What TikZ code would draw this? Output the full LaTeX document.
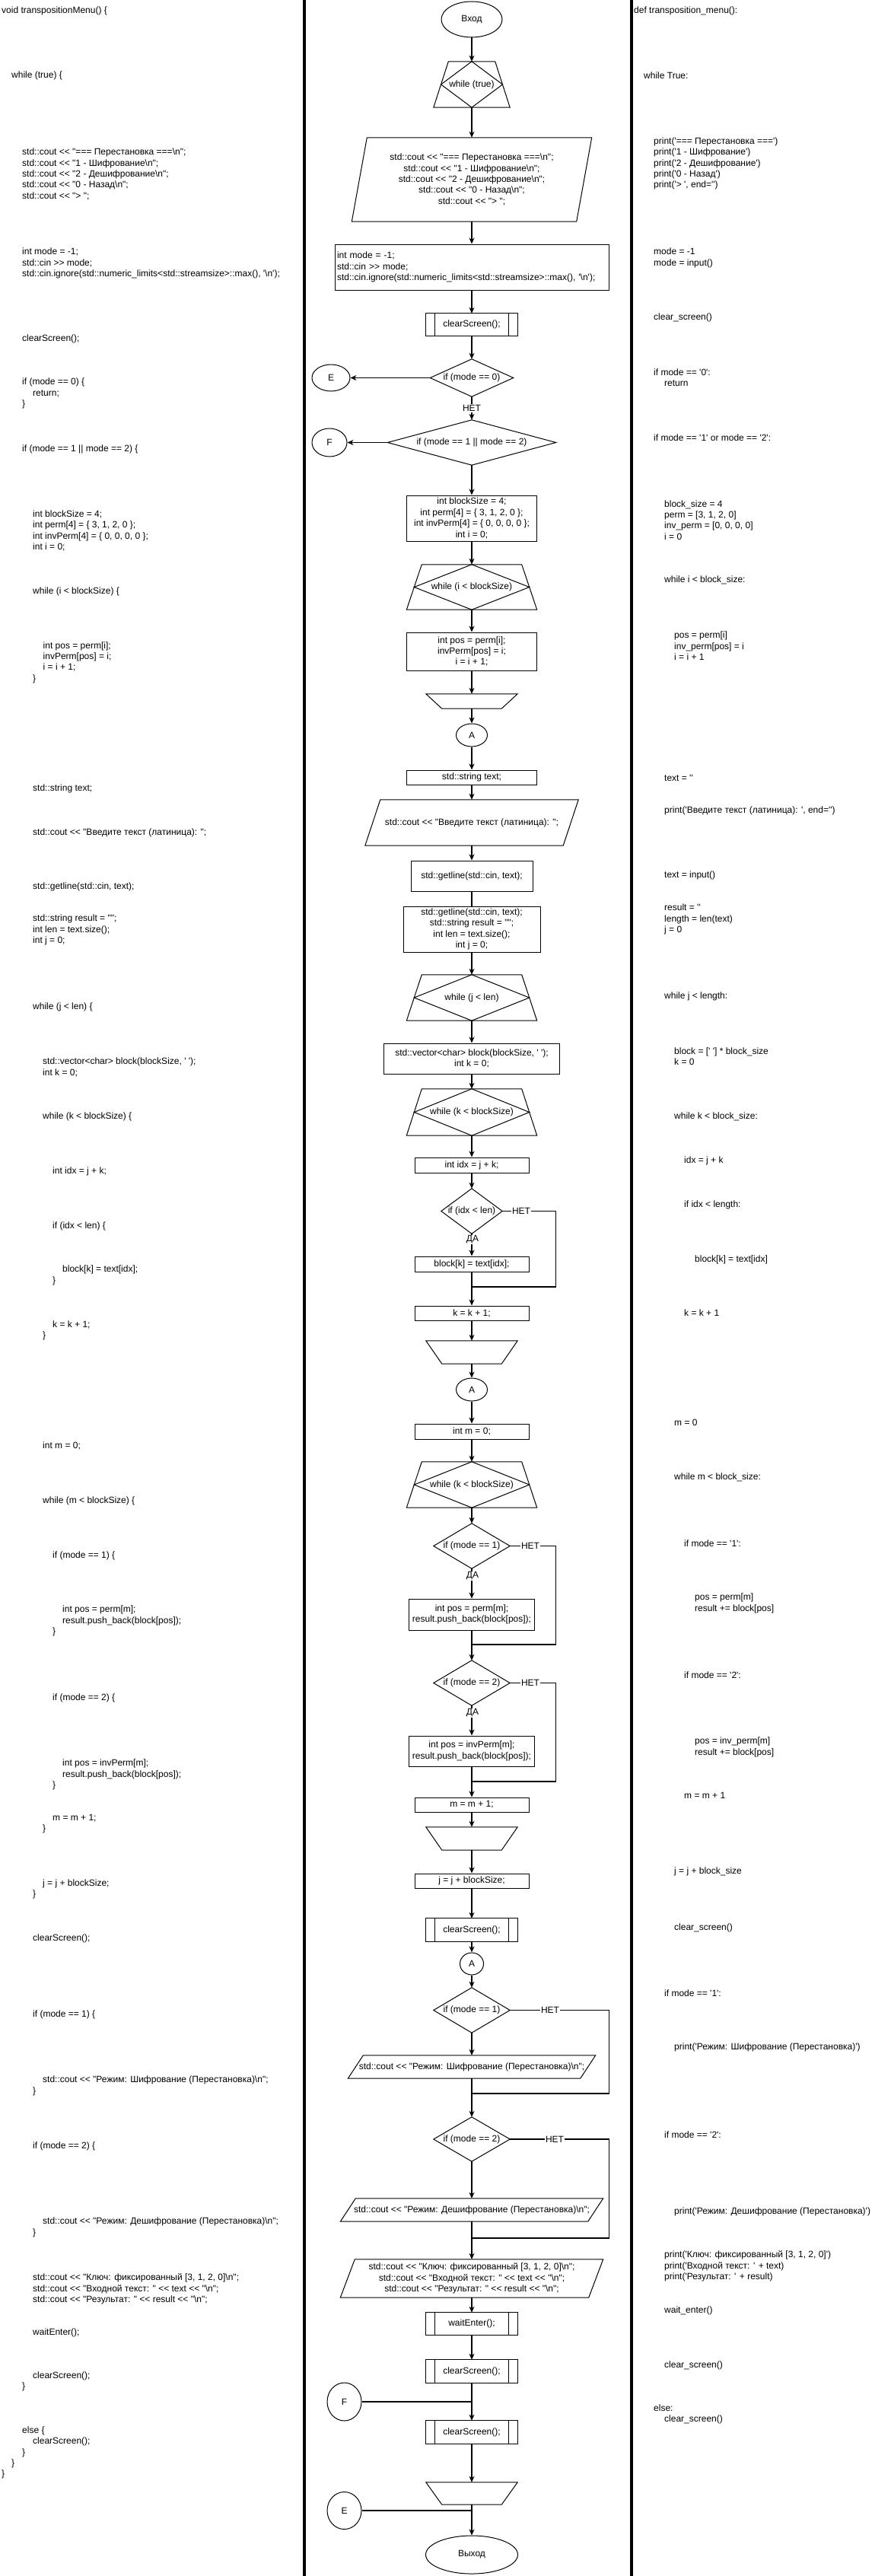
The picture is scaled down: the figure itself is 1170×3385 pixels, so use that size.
\documentclass[tikz,border=0pt]{standalone}
\usepackage{fontspec}
\setmainfont{Liberation Sans}[Ligatures=TeXOff]
\usetikzlibrary{arrows.meta,shapes.geometric}
\newcommand\bsl{\textbackslash}
\newcommand\ind[1]{\hspace*{#1pt}}
\newcommand\fsz{\fontsize{12pt}{14.4pt}\selectfont}
\tikzset{
  shp/.style={draw=black, line width=1pt},
  gh/.style={rectangle, inner sep=0pt, align=center},
  sz/.style 2 args={minimum width=#1pt, minimum height=#2pt},
  term/.style={ellipse, draw=black, line width=1pt, inner sep=0pt},
  arr/.style={line width=1.2pt, -{Stealth[length=8pt,width=7pt]}},
  ln/.style={line width=1.2pt},
  lab/.style={fill=white, inner sep=1pt},
  code/.style={anchor=west, align=left, inner sep=0pt},
  sepline/.style={line width=3.5pt, draw=black}
}
\newcommand\LoopS[2]{\draw[shp] ([xshift=#2pt]#1.north west) -- ([xshift=-#2pt]#1.north east) -- (#1.south east) -- (#1.south west) -- cycle;
  \draw[shp] (#1.north) -- ([xshift=-#2pt/2]#1.east) -- (#1.south) -- ([xshift=#2pt/2]#1.west) -- cycle;}
\newcommand\LoopE[2]{\draw[shp] (#1.north west) -- (#1.north east) -- ([xshift=-#2pt]#1.south east) -- ([xshift=#2pt]#1.south west) -- cycle;}
\newcommand\Para[2]{\draw[shp] ([xshift=#2pt]#1.north west) -- (#1.north east) -- ([xshift=-#2pt]#1.south east) -- (#1.south west) -- cycle;}
\newcommand\Dmd[1]{\draw[shp] (#1.north) -- (#1.east) -- (#1.south) -- (#1.west) -- cycle;}
\newcommand\Predef[1]{\draw[shp] (#1.north west) rectangle (#1.south east);
  \draw[shp] ([xshift=12pt]#1.north west) -- ([xshift=12pt]#1.south west) ([xshift=-12pt]#1.north east) -- ([xshift=-12pt]#1.south east);}
\begin{document}
\begin{tikzpicture}[x=1pt,y=-1pt,font=\fsz]
\useasboundingbox (0,0) rectangle (1170,3385);
\fill[white] (0,0) rectangle (1170,3385);
\draw[sepline] (400,0) -- (400,3385);
\draw[sepline] (830,0) -- (830,3385);

% ---------------- left column (C++) ----------------
\node[code] (c1) at (2,14) {void transpositionMenu() \{};
\node[code] (c2) at (15,99) {while (true) \{};
\node[code] (c3) at (29,229) {std::cout << "=== Перестановка ===\bsl n";\\std::cout << "1 - Шифрование\bsl n";\\std::cout << "2 - Дешифрование\bsl n";\\std::cout << "0 - Назад\bsl n";\\std::cout << "> ";};
\node[code] (c4) at (29,346) {int mode = -1;\\std::cin >> mode;\\std::cin.ignore(std::numeric\_limits<std::streamsize>::max(), '\bsl n');};
\node[code] (c5) at (29,445) {clearScreen();};
\node[code] (c6) at (29,517) {if (mode == 0) \{\\\ind{14}return;\\\}};
\node[code] (c7) at (29,590) {if (mode == 1 || mode == 2) \{};
\node[code] (c8) at (43,697.5) {int blockSize = 4;\\int perm[4] = \{ 3, 1, 2, 0 \};\\int invPerm[4] = \{ 0, 0, 0, 0 \};\\int i = 0;};
\node[code] (c9) at (43,777) {while (i < blockSize) \{};
\node[code] (c10) at (43,870.5) {\ind{13.5}int pos = perm[i];\\\ind{13.5}invPerm[pos] = i;\\\ind{13.5}i = i + 1;\\\}};
\node[code] (c11) at (43,1036) {std::string text;};
\node[code] (c12) at (43,1094) {std::cout << "Введите текст (латиница): ";};
\node[code] (c13) at (43,1165) {std::getline(std::cin, text);};
\node[code] (c14) at (43,1222) {std::string result = "";\\int len = text.size();\\int j = 0;};
\node[code] (c15) at (43,1323) {while (j < len) \{};
\node[code] (c16) at (56,1402.5) {std::vector<char> block(blockSize, ' ');\\int k = 0;};
\node[code] (c17) at (56,1467) {while (k < blockSize) \{};
\node[code] (c18) at (69,1539) {int idx = j + k;};
\node[code] (c19) at (69,1611) {if (idx < len) \{};
\node[code] (c20) at (69,1676) {\ind{13}block[k] = text[idx];\\\}};
\node[code] (c21) at (56,1748.5) {\ind{13}k = k + 1;\\\}};
\node[code] (c22) at (56,1900) {int m = 0;};
\node[code] (c23) at (56,1972) {while (m < blockSize) \{};
\node[code] (c24) at (69,2044) {if (mode == 1) \{};
\node[code] (c25) at (69,2130) {\ind{13}int pos = perm[m];\\\ind{13}result.push\_back(block[pos]);\\\}};
\node[code] (c26) at (69,2231) {if (mode == 2) \{};
\node[code] (c27) at (69,2332) {\ind{13}int pos = invPerm[m];\\\ind{13}result.push\_back(block[pos]);\\\}};
\node[code] (c28) at (56,2396.5) {\ind{13}m = m + 1;\\\}};
\node[code] (c29) at (43,2482.5) {\ind{13}j = j + blockSize;\\\}};
\node[code] (c30) at (43,2547) {clearScreen();};
\node[code] (c31) at (43,2647) {if (mode == 1) \{};
\node[code] (c32) at (43,2741) {\ind{13}std::cout << "Режим: Шифрование (Перестановка)\bsl n";\\\}};
\node[code] (c33) at (43,2820) {if (mode == 2) \{};
\node[code] (c34) at (43,2927) {\ind{13}std::cout << "Режим: Дешифрование (Перестановка)\bsl n";\\\}};
\node[code] (c35) at (43,3008) {std::cout << "Ключ: фиксированный [3, 1, 2, 0]\bsl n";\\std::cout << "Входной текст: " << text << "\bsl n";\\std::cout << "Результат: " << result << "\bsl n";};
\node[code] (c36) at (43,3065) {waitEnter();};
\node[code] (c37) at (29,3129.5) {\ind{14}clearScreen();\\\}};
\node[code] (c38) at (2,3223) {\ind{27}else \{\\\ind{41}clearScreen();\\\ind{27}\}\\\ind{13}\}\\\}};

% ---------------- right column (Python) ----------------
\node[code] (r1) at (833,14) {def transposition\_menu():};
\node[code] (r2) at (846,99) {while True:};
\node[code] (r3) at (859,215) {print('=== Перестановка ===')\\print('1 - Шифрование')\\print('2 - Дешифрование')\\print('0 - Назад')\\print('> ', end='')};
\node[code] (r4) at (859,339) {mode = -1\\mode = input()};
\node[code] (r5) at (859,417) {clear\_screen()};
\node[code] (r6) at (859,496) {if mode == '0':\\\ind{14}return};
\node[code] (r7) at (859,575) {if mode == '1' or mode == '2':};
\node[code] (r8) at (873,683.5) {block\_size = 4\\perm = [3, 1, 2, 0]\\inv\_perm = [0, 0, 0, 0]\\i = 0};
\node[code] (r9) at (873,762) {while i < block\_size:};
\node[code] (r10) at (886,849) {pos = perm[i]\\inv\_perm[pos] = i\\i = i + 1};
\node[code] (r11) at (873,1022) {text = ''};
\node[code] (r12) at (873,1065) {print('Введите текст (латиница): ', end='')};
\node[code] (r13) at (873,1150) {text = input()};
\node[code] (r14) at (873,1208) {result = ''\\length = len(text)\\j = 0};
\node[code] (r15) at (873,1309) {while j < length:};
\node[code] (r16) at (886,1388) {block = [' '] * block\_size\\k = 0};
\node[code] (r17) at (886,1467) {while k < block\_size:};
\node[code] (r18) at (899,1525) {idx = j + k};
\node[code] (r19) at (899,1583) {if idx < length:};
\node[code] (r20) at (913,1655) {block[k] = text[idx]};
\node[code] (r21) at (899,1725) {k = k + 1};
\node[code] (r22) at (886,1869) {m = 0};
\node[code] (r23) at (886,1941) {while m < block\_size:};
\node[code] (r24) at (899,2028) {if mode == '1':};
\node[code] (r25) at (913,2107) {pos = perm[m]\\result += block[pos]};
\node[code] (r26) at (899,2201) {if mode == '2':};
\node[code] (r27) at (913,2296) {pos = inv\_perm[m]\\result += block[pos]};
\node[code] (r28) at (899,2359) {m = m + 1};
\node[code] (r29) at (886,2459) {j = j + block\_size};
\node[code] (r30) at (886,2533) {clear\_screen()};
\node[code] (r31) at (873,2619) {if mode == '1':};
\node[code] (r32) at (886,2690) {print('Режим: Шифрование (Перестановка)')};
\node[code] (r33) at (873,2805) {if mode == '2':};
\node[code] (r34) at (886,2906) {print('Режим: Дешифрование (Перестановка)')};
\node[code] (r35) at (873,2978) {print('Ключ: фиксированный [3, 1, 2, 0]')\\print('Входной текст: ' + text)\\print('Результат: ' + result)};
\node[code] (r36) at (873,3036) {wait\_enter()};
\node[code] (r37) at (873,3108) {clear\_screen()};
\node[code] (r38) at (859,3172.5) {else:\\\ind{14}clear\_screen()};

% ---------------- flowchart ----------------
\node[term, sz={80}{47}] (start) at (620,25.5) {Вход};
\node[gh, sz={100}{60}] (wtrue) at (620,111) {while (true)}; \LoopS{wtrue}{19.5}
\node[gh, sz={315}{110}] (out1) at (620,236) {std::cout << "=== Перестановка ===\bsl n";\\std::cout << "1 - Шифрование\bsl n";\\std::cout << "2 - Дешифрование\bsl n";\\std::cout << "0 - Назад\bsl n";\\std::cout << "> ";}; \Para{out1}{20}
\node[gh, shp, sz={360}{60}, text width=354pt, align=left] (inmode) at (620,351) {int mode = -1;\\std::cin >> mode;\\std::cin.ignore(std::numeric\_limits<std::streamsize>::max(), '\bsl n');};
\node[gh, sz={120}{29}] (cls1) at (620,426.5) {clearScreen();}; \Predef{cls1}
\node[gh, sz={109}{49}] (if0) at (620,496.5) {if (mode == 0)}; \Dmd{if0}
\node[term, sz={50}{35}] (E1) at (435,496.5) {E};
\node[gh, sz={221}{59}] (if12) at (620,581.5) {if (mode == 1 || mode == 2)}; \Dmd{if12}
\node[term, sz={46}{37}] (F1) at (433,581.5) {F};
\node[gh, shp, sz={171}{60}] (init) at (620,681) {int blockSize = 4;\\int perm[4] = \{ 3, 1, 2, 0 \};\\int invPerm[4] = \{ 0, 0, 0, 0 \};\\int i = 0;};
\node[gh, sz={171}{59}] (wi) at (620,771.5) {while (i < blockSize)}; \LoopS{wi}{20}
\node[gh, shp, sz={171}{50}] (posi) at (620,856) {int pos = perm[i];\\invPerm[pos] = i;\\i = i + 1;};
\node[gh, sz={120}{19}] (endi) at (620,921.5) {}; \LoopE{endi}{21}
\node[term, sz={41}{30}] (A1) at (620,966) {A};
\node[gh, shp, sz={171}{19}] (strtext) at (620,1021.5) {std::string text;};
\node[gh, sz={280}{60}] (outtext) at (620,1081) {std::cout << "Введите текст (латиница): ";}; \Para{outtext}{20}
\node[gh, shp, sz={160}{40}] (getl) at (620,1151) {std::getline(std::cin, text);};
\node[gh, shp, sz={180}{60}] (init2) at (620,1221) {std::getline(std::cin, text);\\std::string result = "";\\int len = text.size();\\int j = 0;};
\node[gh, sz={171}{60}] (wj) at (620,1311) {while (j < len)}; \LoopS{wj}{20}
\node[gh, shp, sz={231}{40}] (vec) at (620,1391) {std::vector<char> block(blockSize, ' ');\\int k = 0;};
\node[gh, sz={171}{61}] (wk) at (620,1461.5) {while (k < blockSize)}; \LoopS{wk}{20}
\node[gh, shp, sz={150}{20}] (idx) at (620,1531) {int idx = j + k;};
\node[gh, sz={80}{59}] (ifidx) at (620,1591.5) {if (idx < len)}; \Dmd{ifidx}
\node[gh, shp, sz={150}{20}] (blk) at (620,1661) {block[k] = text[idx];};
\node[gh, shp, sz={150}{19}] (kinc) at (620,1725.5) {k = k + 1;};
\node[gh, sz={120}{30}] (endk) at (620,1777) {}; \LoopE{endk}{21}
\node[term, sz={41}{30}] (A2) at (620,1826) {A};
\node[gh, shp, sz={150}{20}] (m0) at (620,1881) {int m = 0;};
\node[gh, sz={171}{60}] (wm) at (620,1951) {while (k < blockSize)}; \LoopS{wm}{20}
\node[gh, sz={100}{59}] (if1) at (620,2031.5) {if (mode == 1)}; \Dmd{if1}
\node[gh, shp, sz={165}{41}] (p1) at (620,2121.5) {int pos = perm[m];\\result.push\_back(block[pos]);};
\node[gh, sz={100}{59}] (if2) at (620,2211.5) {if (mode == 2)}; \Dmd{if2}
\node[gh, shp, sz={165}{40}] (p2) at (620,2301) {int pos = invPerm[m];\\result.push\_back(block[pos]);};
\node[gh, shp, sz={150}{19}] (minc) at (620,2371.5) {m = m + 1;};
\node[gh, sz={120}{30}] (endm) at (620,2416) {}; \LoopE{endm}{21}
\node[gh, shp, sz={150}{19}] (jinc) at (620,2471.5) {j = j + blockSize;};
\node[gh, sz={120}{30}] (cls2) at (620,2536) {clearScreen();}; \Predef{cls2}
\node[term, sz={31}{29}] (A3) at (620,2580.5) {A};
\node[gh, sz={100}{59}] (ifm1) at (620,2641.5) {if (mode == 1)}; \Dmd{ifm1}
\node[gh, sz={325}{30}] (outm1) at (620,2716) {std::cout << "Режим: Шифрование (Перестановка)\bsl n";}; \Para{outm1}{20}
\node[gh, sz={100}{58}] (ifm2) at (620,2811) {if (mode == 2)}; \Dmd{ifm2}
\node[gh, sz={345}{30}] (outm2) at (620,2904) {std::cout << "Режим: Дешифрование (Перестановка)\bsl n";}; \Para{outm2}{20}
\node[gh, sz={345}{50}] (outres) at (620,2994) {std::cout << "Ключ: фиксированный [3, 1, 2, 0]\bsl n";\\std::cout << "Входной текст: " << text << "\bsl n";\\std::cout << "Результат: " << result << "\bsl n";}; \Para{outres}{19}
\node[gh, sz={120}{29}] (wait) at (620,3053.5) {waitEnter();}; \Predef{wait}
\node[gh, sz={120}{30}] (cls3) at (620,3116) {clearScreen();}; \Predef{cls3}
\node[term, sz={45}{50}] (F2) at (452.5,3156) {F};
\node[gh, sz={120}{30}] (cls4) at (620,3196) {clearScreen();}; \Predef{cls4}
\node[gh, sz={120}{29}] (endw) at (620,3276.5) {}; \LoopE{endw}{21}
\node[term, sz={45}{49}] (E2) at (452.5,3299) {E};
\node[term, sz={121}{50}] (exit) at (620,3357) {Выход};

% join points
\coordinate (j1) at (620,1691);
\coordinate (j2) at (620,2161);
\coordinate (j3) at (620,2341);
\coordinate (j4) at (620,2751);
\coordinate (j5) at (620,2941);
\coordinate (jf) at (620,3156);
\coordinate (je) at (620,3299);

% ---------------- connectors ----------------
\draw[arr] (start.south) -- (wtrue.north);
\draw[arr] (wtrue.south) -- (out1.north);
\draw[arr] (out1.south) -- (inmode.north);
\draw[arr] (inmode.south) -- (cls1.north);
\draw[arr] (cls1.south) -- (if0.north);
\draw[arr] (if0.west) -- (E1.east);
\draw[arr] (if0.south) -- (if12.north);
\draw[arr] (if12.west) -- (F1.east);
\draw[arr] (if12.south) -- (init.north);
\draw[arr] (init.south) -- (wi.north);
\draw[arr] (wi.south) -- (posi.north);
\draw[arr] (posi.south) -- (endi.north);
\draw[arr] (endi.south) -- (A1.north);
\draw[arr] (A1.south) -- (strtext.north);
\draw[arr] (strtext.south) -- (outtext.north);
\draw[arr] (outtext.south) -- (getl.north);
\draw[ln] (getl.south) -- (init2.north);
\draw[arr] (init2.south) -- (wj.north);
\draw[arr] (wj.south) -- (vec.north);
\draw[arr] (vec.south) -- (wk.north);
\draw[arr] (wk.south) -- (idx.north);
\draw[arr] (idx.south) -- (ifidx.north);
\draw[arr] (ifidx.south) -- (blk.north);
\draw[ln] (ifidx.east) -- ++(70,0) |- (j1);
\draw[arr] (blk.south) -- (kinc.north);
\draw[arr] (kinc.south) -- (endk.north);
\draw[arr] (endk.south) -- (A2.north);
\draw[arr] (A2.south) -- (m0.north);
\draw[arr] (m0.south) -- (wm.north);
\draw[arr] (wm.south) -- (if1.north);
\draw[arr] (if1.south) -- (p1.north);
\draw[ln] (if1.east) -- ++(60,0) |- (j2);
\draw[arr] (p1.south) -- (if2.north);
\draw[arr] (if2.south) -- (p2.north);
\draw[ln] (if2.east) -- ++(60,0) |- (j3);
\draw[arr] (p2.south) -- (minc.north);
\draw[arr] (minc.south) -- (endm.north);
\draw[arr] (endm.south) -- (jinc.north);
\draw[arr] (jinc.south) -- (cls2.north);
\draw[arr] (cls2.south) -- (A3.north);
\draw[arr] (A3.south) -- (ifm1.north);
\draw[arr] (ifm1.south) -- (outm1.north);
\draw[ln] (ifm1.east) -- ++(130,0) |- (j4);
\draw[arr] (outm1.south) -- (ifm2.north);
\draw[arr] (ifm2.south) -- (outm2.north);
\draw[ln] (ifm2.east) -- ++(130,0) |- (j5);
\draw[arr] (outm2.south) -- (outres.north);
\draw[arr] (outres.south) -- (wait.north);
\draw[arr] (wait.south) -- (cls3.north);
\draw[arr] (cls3.south) -- (cls4.north);
\draw[ln] (F2.east) -- (jf);
\draw[arr] (cls4.south) -- (endw.north);
\draw[arr] (endw.south) -- (exit.north);
\draw[ln] (E2.east) -- (je);

% ---------------- labels ----------------
\node[lab] (l1) at (620,536.5) {НЕТ};
\node[lab] (l2) at (685,1591.5) {НЕТ};
\node[lab] (l3) at (621,1629) {ДА};
\node[lab] (l4) at (697,2031.5) {НЕТ};
\node[lab] (l5) at (621,2071) {ДА};
\node[lab] (l6) at (697,2211.5) {НЕТ};
\node[lab] (l7) at (621,2251) {ДА};
\node[lab] (l8) at (723,2641.5) {НЕТ};
\node[lab] (l9) at (729,2811) {НЕТ};
\end{tikzpicture}
\end{document}
